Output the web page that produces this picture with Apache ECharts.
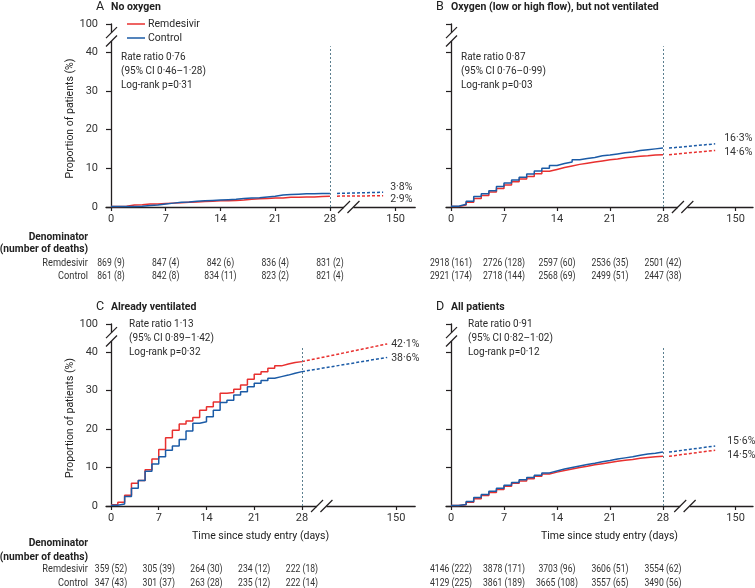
<!DOCTYPE html>
<html><head><meta charset="utf-8">
<script src="https://cdn.jsdelivr.net/npm/echarts@6/dist/echarts.min.js"></script>
<style>html,body{margin:0;padding:0;background:#fff}#c{width:755px;height:588px}</style>
</head><body><div id="c"></div>
<script>
// ---------------- data ----------------
const dayTicks = [0, 7, 14, 21, 28];
const xTickLabels = ['0', '7', '14', '21', '28', '150'];
const yTickLabels = ['0', '10', '20', '30', '40', '100'];
const seriesNames = ['Remdesivir', 'Control'];
const panelLetters = ['A', 'B', 'C', 'D'];
const panelTitles = ['No oxygen', 'Oxygen (low or high flow), but not ventilated', 'Already ventilated', 'All patients'];
const days = [0,1,2,3,4,5,6,7,8,9,10,11,12,13,14,15,16,17,18,19,20,21,22,23,24,25,26,27];
// cumulative mortality (%) by day, Kaplan-Meier step values
const remA = [0.1,0.2,0.5,0.6,0.8,0.8,0.9,1.0,1.1,1.2,1.3,1.4,1.5,1.6,1.6,1.7,1.8,2.0,2.1,2.2,2.3,2.3,2.5,2.5,2.6,2.6,2.7,2.8];
const ctlA = [0.1,0.1,0.1,0.2,0.4,0.5,0.8,1.0,1.2,1.3,1.5,1.6,1.7,1.8,1.9,2.0,2.2,2.3,2.4,2.6,2.8,3.1,3.2,3.3,3.4,3.4,3.5,3.5];
const remB = [0.1,0.5,1.2,2.2,3.0,3.9,4.8,5.7,6.5,7.2,7.9,8.6,9.2,9.7,10.2,10.6,11.0,11.3,11.6,11.9,12.2,12.4,12.7,12.9,13.1,13.2,13.4,13.5];
const ctlB = [0.2,0.7,1.5,2.7,3.4,4.2,5.3,6.2,7.0,7.7,8.5,9.3,10.0,10.7,11.2,11.6,12.2,12.5,12.8,13.2,13.4,13.7,14.0,14.2,14.6,14.8,15.0,15.2];
const remC = [0.3,1.0,2.8,5.9,6.6,9.4,12.2,14.7,17.7,19.7,21.3,22.1,23.0,24.9,25.8,27.0,29.3,29.5,30.3,31.4,32.9,34.2,34.9,35.8,36.4,36.9,37.3,37.5];
const ctlC = [0.2,0.5,2.5,4.6,6.6,9.0,10.9,12.8,14.5,15.6,17.3,19.5,21.5,21.9,23.2,24.9,26.9,27.5,28.8,29.7,31.0,31.9,32.6,33.2,33.6,34.0,34.5,34.9];
const remD = [0.1,0.3,1.0,1.9,2.7,3.5,4.3,5.1,5.9,6.5,7.1,7.7,8.3,8.8,9.2,9.6,10.0,10.3,10.7,11.0,11.3,11.6,11.9,12.1,12.4,12.6,12.8,12.9];
const ctlD = [0.1,0.4,1.2,2.2,3.0,3.8,4.6,5.4,6.1,6.8,7.4,8.0,8.6,9.1,9.6,10.0,10.4,10.8,11.1,11.5,11.8,12.2,12.5,12.8,13.2,13.5,13.7,14.0];
const remSeries = [remA, remB, remC, remD];
const ctlSeries = [ctlA, ctlB, ctlC, ctlD];
// projected values at day 150
const remEnd = [2.9, 14.6, 42.1, 14.5];
const ctlEnd = [3.8, 16.3, 38.6, 15.6];
const remEndLabel = ['2·9%', '14·6%', '42·1%', '14·5%'];
const ctlEndLabel = ['3·8%', '16·3%', '38·6%', '15·6%'];
const rateRatio = ['Rate ratio 0·76', 'Rate ratio 0·87', 'Rate ratio 1·13', 'Rate ratio 0·91'];
const ciText = ['(95% CI 0·46–1·28)', '(95% CI 0·76–0·99)', '(95% CI 0·89–1·42)', '(95% CI 0·82–1·02)'];
const logRank = ['Log-rank p=0·31', 'Log-rank p=0·03', 'Log-rank p=0·32', 'Log-rank p=0·12'];
const remDenom = [
  ['869 (9)', '847 (4)', '842 (6)', '836 (4)', '831 (2)'],
  ['2918 (161)', '2726 (128)', '2597 (60)', '2536 (35)', '2501 (42)'],
  ['359 (52)', '305 (39)', '264 (30)', '234 (12)', '222 (18)'],
  ['4146 (222)', '3878 (171)', '3703 (96)', '3606 (51)', '3554 (62)']
];
const ctlDenom = [
  ['861 (8)', '842 (8)', '834 (11)', '823 (2)', '821 (4)'],
  ['2921 (174)', '2718 (144)', '2568 (69)', '2499 (51)', '2447 (38)'],
  ['347 (43)', '301 (37)', '263 (28)', '235 (12)', '222 (14)'],
  ['4129 (225)', '3861 (189)', '3665 (108)', '3557 (65)', '3490 (56)']
];

// ---------------- layout (not data) ----------------
const RED = '#e8302f', BLUE = '#1b5ba6', AX = '#231f20', TXT = '#2a2a2a', VL = '#5b7f8f';
const FONT = 'Roboto, "Liberation Sans", Arial, sans-serif';
const L = [
  {x0:111, ppd:7.82, xmin:-0.64, xmax:38.9, y0:207, top:24,  p150:36.4, extS:28.9, extE:34.8, brk:30.4, lx:7, dyR:4, dyC:-5, leftLabels:true},
  {x0:451, ppd:7.57, xmin:-0.66, xmax:39.9, y0:207, top:24,  p150:37.6, extS:28.8, extE:34.9, brk:30.6, lx:9, dyR:2, dyC:-5, leftLabels:false},
  {x0:111, ppd:6.82, xmin:-0.73, xmax:44.6, y0:506, top:324, p150:41.8, extS:28.0, extE:40.5, brk:30.9, lx:4, dyR:0, dyC:1, leftLabels:true},
  {x0:451, ppd:7.57, xmin:-0.66, xmax:39.9, y0:506, top:324, p150:37.6, extS:28.8, extE:34.9, brk:30.9, lx:12, dyR:5, dyC:-5, leftLabels:false}
];
const ppu = [3.875, 3.875, 3.85, 3.85];
const vTop = 41.5;

const chart = echarts.init(document.getElementById('c'), null, {renderer:'canvas'});
const grids = [], xAxes = [], yAxes = [], series = [];
L.forEach((p, i) => {
  const ymax = (p.y0 - p.top) / ppu[i];
  p.ymax = ymax;
  grids.push({left: p.x0 + p.xmin * p.ppd, top: p.top, width: (p.xmax - p.xmin) * p.ppd, height: p.y0 - p.top, containLabel:false});
  const xVals = dayTicks.concat([p.p150]);
  xAxes.push({
    type:'value', gridIndex:i, min:p.xmin, max:p.xmax,
    axisLine:{show:true, onZero:false, lineStyle:{color:AX, width:1.3}},
    axisTick:{show:true, customValues:xVals, length:4, lineStyle:{color:AX, width:1.2}},
    axisLabel:{show:true, customValues:xVals, margin:7, color:'#333', fontSize:11, fontFamily:FONT,
      formatter:(v) => { const k = xVals.findIndex(t => Math.abs(t - v) < 1e-6); return k >= 0 ? xTickLabels[k] : ''; }},
    splitLine:{show:false}
  });
  const yVals = [0, 10, 20, 30, 40, ymax];
  yAxes.push({
    type:'value', gridIndex:i, min:0, max:ymax,
    axisLine:{show:true, onZero:true, lineStyle:{color:AX, width:1.3}},
    axisTick:{show:true, customValues:yVals, length:5, lineStyle:{color:AX, width:1.2}},
    axisLabel:{show:p.leftLabels, customValues:yVals, margin:8, color:'#333', fontSize:11, fontFamily:FONT,
      formatter:(v) => { const k = yVals.findIndex(t => Math.abs(t - v) < 1e-6); return k >= 0 ? yTickLabels[k] : ''; }},
    splitLine:{show:false}
  });
  const step = (arr) => days.map((d, k) => [d, arr[k]]).concat([[28, arr[arr.length - 1]]]);
  const rem = remSeries[i], ctl = ctlSeries[i];
  series.push({name:seriesNames[0], type:'line', xAxisIndex:i, yAxisIndex:i, step:'end', symbol:'none', silent:true,
    lineStyle:{color:RED, width:1.5}, itemStyle:{color:RED}, data:step(rem), z:3});
  series.push({name:seriesNames[1], type:'line', xAxisIndex:i, yAxisIndex:i, step:'end', symbol:'none', silent:true,
    lineStyle:{color:BLUE, width:1.5}, itemStyle:{color:BLUE}, data:step(ctl), z:4,
    markLine:{symbol:'none', silent:true, label:{show:false}, lineStyle:{type:[2,2], color:VL, width:1},
      data:[[{coord:[28, 0]}, {coord:[28, vTop]}]]}});
  series.push({type:'line', xAxisIndex:i, yAxisIndex:i, symbol:'none', silent:true,
    lineStyle:{color:RED, width:1.5, type:[3,2]}, data:[[p.extS, rem[rem.length-1]], [p.extE, remEnd[i]]], z:3});
  series.push({type:'line', xAxisIndex:i, yAxisIndex:i, symbol:'none', silent:true,
    lineStyle:{color:BLUE, width:1.5, type:[3,2]}, data:[[p.extS, ctl[ctl.length-1]], [p.extE, ctlEnd[i]]], z:4});
});

chart.setOption({animation:false, backgroundColor:'#fff', grid:grids, xAxis:xAxes, yAxis:yAxes, series:series});

// ---------------- decorations / texts ----------------
const G = [];
const txt = (x, y, text, o = {}) => G.push({type:'text', x, y, rotation:o.rot || 0, scaleX:o.sx || 1, z:100, silent:true,
  style:{text, fill:o.fill || TXT, font:`${o.bold ? 'bold ' : ''}${o.size || 10.5}px ${FONT}`,
    align:o.align || 'left', textAlign:o.align || 'left', verticalAlign:'middle', textVerticalAlign:'middle'}});
const line = (x1, y1, x2, y2, color, w) => G.push({type:'line', z:100, silent:true, shape:{x1, y1, x2, y2}, style:{stroke:color, lineWidth:w}});
const rect = (x, y, w, h) => G.push({type:'rect', z:99, silent:true, shape:{x, y, width:w, height:h}, style:{fill:'#fff'}});

L.forEach((p, i) => {
  const px = (x, y) => chart.convertToPixel({gridIndex:i}, [x, y]);
  // titles
  const o = px(0, p.ymax);
  txt(o[0] - 15, p.top - 17, panelLetters[i], {size:12.5, fill:'#222'});
  txt(o[0], p.top - 17, panelTitles[i], {bold:true, size:10.5, fill:'#222'});
  // y-axis break
  const yb1 = o[1] + 8.7, yb2 = o[1] + 17;
  rect(o[0] - 2, yb1, 4, yb2 - yb1);
  line(o[0] - 5, yb1 + 5.5, o[0] + 6, yb1 - 5.5, AX, 1.2);
  line(o[0] - 5, yb2 + 5.5, o[0] + 6, yb2 - 5.5, AX, 1.2);
  // x-axis break
  const b = px(p.brk, 0);
  const xb1 = b[0] - 4.7, xb2 = b[0] + 4.7;
  rect(xb1, b[1] - 2, xb2 - xb1, 4);
  line(xb1 - 6, b[1] + 6, xb1 + 6, b[1] - 6, AX, 1.2);
  line(xb2 - 6, b[1] + 6, xb2 + 6, b[1] - 6, AX, 1.2);
  // stats text
  const sx = (i % 2 === 0) ? (i === 0 ? 121 : 129) : (i === 1 ? 461 : 468);
  const sy = (i === 0 || i === 1) ? 57 : 324;
  txt(sx, sy, rateRatio[i], {sx:0.95});
  txt(sx, sy + 14, ciText[i], {sx:0.95});
  txt(sx, sy + 28, logRank[i], {sx:0.95});
  // end labels
  const re = px(p.extE, remEnd[i]), ce = px(p.extE, ctlEnd[i]);
  txt(re[0] + p.lx, re[1] + p.dyR, remEndLabel[i], {fill:'#333'});
  txt(ce[0] + p.lx, ce[1] + p.dyC, ctlEndLabel[i], {fill:'#333'});
  // denominators
  const rowR = (i < 2) ? 263 : 569.5, rowC = (i < 2) ? 276 : 583.5;
  dayTicks.forEach((d, k) => {
    const t = px(d, 0);
    txt(t[0], rowR, remDenom[i][k], {align:'center', size:10.5, fill:'#333', sx:0.82});
    txt(t[0], rowC, ctlDenom[i][k], {align:'center', size:10.5, fill:'#333', sx:0.82});
  });
  if (i % 2 === 0) {
    const h1 = (i === 0) ? 237 : 543.5, h2 = (i === 0) ? 249.5 : 557.5;
    txt(88, h1, 'Denominator', {bold:true, align:'right', size:11, fill:'#222', sx:0.93});
    txt(88, h2, '(number of deaths)', {bold:true, align:'right', size:11, fill:'#222', sx:0.93});
    txt(88, rowR, seriesNames[0], {align:'right', size:10.5, fill:'#333', sx:0.88});
    txt(88, rowC, seriesNames[1], {align:'right', size:10.5, fill:'#333', sx:0.88});
    // y axis title
    txt(70, (p.top + p.y0) / 2 + 3, 'Proportion of patients (%)', {align:'center', size:10.5, rot:Math.PI / 2, fill:'#222'});
  }
  if (i >= 2) {
    const a = px(p.xmin, 0), e = px(p.xmax, 0);
    txt((a[0] + e[0]) / 2 + (i === 3 ? 10 : 0), 536, 'Time since study entry (days)', {align:'center', size:10.5, fill:'#222'});
  }
});
// legend (panel A)
line(127, 24, 145, 24, RED, 1.5);
line(127, 38, 145, 38, BLUE, 1.5);
txt(148, 24, seriesNames[0], {size:10.5});
txt(148, 38, seriesNames[1], {size:10.5});

chart.setOption({graphic:G});
</script></body></html>
